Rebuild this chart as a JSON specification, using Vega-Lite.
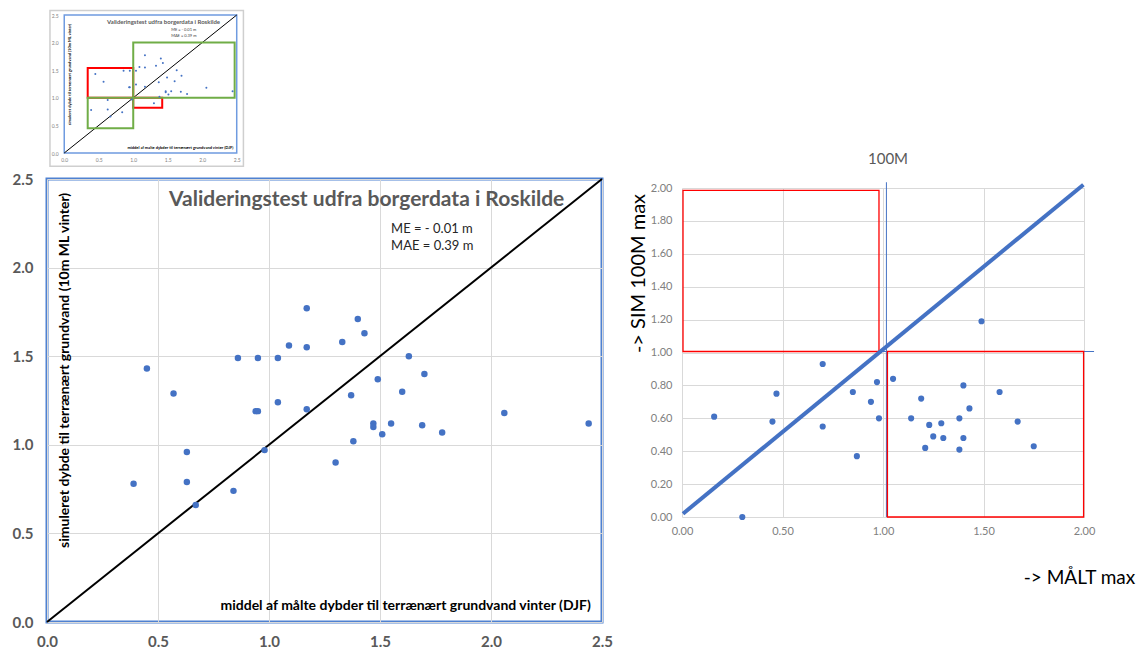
{
  "$schema": "https://vega.github.io/schema/vega-lite/v6.json",
  "background": "white",
  "padding": {"left": 10, "top": 9, "right": 0, "bottom": 0},
  "config": {"view": {"stroke": null}, "font": "Lato", "concat": {"spacing": 14}, "axis": {"labelFlush": false}},
  "datasets": {
    "obs": [
      {"x":0.39,"y":0.78},{"x":0.45,"y":1.43},{"x":0.57,"y":1.29},{"x":0.63,"y":0.96},{"x":0.63,"y":0.79},{"x":0.67,"y":0.66},{"x":0.84,"y":0.74},{"x":0.86,"y":1.49},{"x":0.94,"y":1.19},{"x":0.95,"y":1.19},{"x":0.95,"y":1.49},{"x":0.98,"y":0.97},{"x":1.04,"y":1.49},{"x":1.04,"y":1.24},{"x":1.09,"y":1.56},{"x":1.17,"y":1.77},{"x":1.17,"y":1.55},{"x":1.17,"y":1.20},{"x":1.30,"y":0.90},{"x":1.33,"y":1.58},{"x":1.37,"y":1.28},{"x":1.38,"y":1.02},{"x":1.40,"y":1.71},{"x":1.43,"y":1.63},{"x":1.47,"y":1.12},{"x":1.47,"y":1.10},{"x":1.49,"y":1.37},{"x":1.51,"y":1.06},{"x":1.55,"y":1.12},{"x":1.60,"y":1.30},{"x":1.63,"y":1.50},{"x":1.69,"y":1.11},{"x":1.70,"y":1.40},{"x":1.78,"y":1.07},{"x":2.06,"y":1.18},{"x":2.44,"y":1.12}
    ],
    "right": [
      {"x":0.16,"y":0.61},{"x":0.30,"y":0.00},{"x":0.45,"y":0.58},{"x":0.47,"y":0.75},{"x":0.70,"y":0.93},{"x":0.70,"y":0.55},{"x":0.85,"y":0.76},{"x":0.87,"y":0.37},{"x":0.94,"y":0.70},{"x":0.97,"y":0.82},{"x":0.98,"y":0.60},{"x":1.05,"y":0.84},{"x":1.14,"y":0.60},{"x":1.19,"y":0.72},{"x":1.21,"y":0.42},{"x":1.23,"y":0.56},{"x":1.25,"y":0.49},{"x":1.29,"y":0.57},{"x":1.30,"y":0.48},{"x":1.38,"y":0.60},{"x":1.38,"y":0.41},{"x":1.40,"y":0.80},{"x":1.40,"y":0.48},{"x":1.43,"y":0.66},{"x":1.49,"y":1.19},{"x":1.58,"y":0.76},{"x":1.67,"y":0.58},{"x":1.75,"y":0.43}
    ],
    "diag": [{"x":0,"y":0},{"x":2.5,"y":2.5}],
    "grid": [{"v":0.5},{"v":1.0},{"v":1.5},{"v":2.0}],
    "boxes": [
      {"x":0.34,"x2":1.0,"y":1.0,"y2":1.54,"c":"red"},
      {"x":1.0,"x2":1.42,"y":0.82,"y2":1.0,"c":"red"},
      {"x":1.0,"x2":2.47,"y":1.0,"y2":2.0,"c":"green"},
      {"x":0.34,"x2":1.0,"y":0.45,"y2":1.0,"c":"green"}
    ],
    "notes": [
      {"k":"title","t":"Valideringstest udfra borgerdata i Roskilde","x":1.44,"y":2.38},
      {"k":"stat","t":"ME = - 0.01 m","x":1.55,"y":2.22},
      {"k":"stat","t":"MAE = 0.39 m","x":1.55,"y":2.12},
      {"k":"ytitle","t":"simuleret dybde til terrænært grundvand (10m ML vinter)","x":0.083,"y":1.42},
      {"k":"xtitle","t":"middel af målte dybder til terrænært grundvand vinter (DJF)","x":2.45,"y":0.09}
    ]
  },
  "hconcat": [
    {
      "spacing": 3,
      "vconcat": [
        {
          "width": 198, "height": 138,
          "encoding": {
            "x": {"field": "x", "type": "quantitative", "scale": {"domain": [-0.25, 2.62], "nice": false, "zero": false},
                  "axis": {"values": [0,0.5,1,1.5,2,2.5], "format": ".1f", "labelFontSize": 5, "labelColor": "#7f7f7f", "labelPadding": 4, "ticks": false, "domain": false, "grid": false, "title": null}},
            "y": {"field": "y", "type": "quantitative", "scale": {"domain": [0, 2.5], "nice": false, "zero": false},
                  "axis": {"values": [0,0.5,1,1.5,2,2.5], "format": ".1f", "labelFontSize": 5, "labelColor": "#7f7f7f", "labelPadding": 6, "offset": -17.2, "ticks": false, "domain": false, "grid": false, "title": null}}
          },
          "layer": [
            {"data": {"values": [{"x": -0.207, "x2": 2.597, "y": -0.24, "y2": 2.58}]}, "mark": {"type": "rect", "filled": false, "color": "#cfcfcf", "strokeWidth": 1.5}, "encoding": {"x2": {"field": "x2"}, "y2": {"field": "y2"}}},
            {"data": {"name": "grid"}, "mark": {"type": "rule", "color": "#e6e6e6", "strokeWidth": 0.7}, "encoding": {"x": {"field": "v", "type": "quantitative"}, "y": {"datum": 0}, "y2": {"datum": 2.5}}},
            {"data": {"name": "grid"}, "mark": {"type": "rule", "color": "#e6e6e6", "strokeWidth": 0.7}, "encoding": {"y": {"field": "v", "type": "quantitative"}, "x": {"datum": 0}, "x2": {"datum": 2.5}}},
            {"data": {"values": [{"x": 0, "x2": 2.5, "y": 0, "y2": 2.5}]}, "mark": {"type": "rect", "filled": false, "color": "#6f9be0", "strokeWidth": 1.5}, "encoding": {"x2": {"field": "x2"}, "y2": {"field": "y2"}}},
            {"data": {"name": "diag"}, "mark": {"type": "line", "color": "#000000", "strokeWidth": 1}},
            {"data": {"name": "boxes"}, "mark": {"type": "rect", "filled": false, "strokeWidth": 2},
             "encoding": {"x2": {"field": "x2"}, "y2": {"field": "y2"}, "color": {"field": "c", "type": "nominal", "scale": {"domain": ["red", "green"], "range": ["#ff0000", "#70ad47"]}, "legend": null}}},
            {"data": {"name": "obs"}, "mark": {"type": "point", "filled": true, "opacity": 1, "size": 4, "color": "#4472C4"}},
            {"data": {"name": "notes"}, "transform": [{"filter": "datum.k == 'title'"}], "mark": {"type": "text", "fontSize": 6, "fontWeight": "bold", "color": "#595959", "align": "center", "baseline": "middle"}, "encoding": {"text": {"field": "t"}}},
            {"data": {"name": "notes"}, "transform": [{"filter": "datum.k == 'stat'"}], "mark": {"type": "text", "fontSize": 4, "color": "#404040", "align": "left", "baseline": "middle"}, "encoding": {"text": {"field": "t"}}},
            {"data": {"name": "notes"}, "transform": [{"filter": "datum.k == 'ytitle'"}], "mark": {"type": "text", "fontSize": 4, "fontWeight": "bold", "color": "#000000", "align": "center", "baseline": "middle", "angle": 270}, "encoding": {"text": {"field": "t"}}},
            {"data": {"name": "notes"}, "transform": [{"filter": "datum.k == 'xtitle'"}], "mark": {"type": "text", "fontSize": 4, "fontWeight": "bold", "color": "#000000", "align": "right", "baseline": "middle"}, "encoding": {"text": {"field": "t"}}}
          ]
        },
        {
          "width": 555, "height": 443,
          "view": {"stroke": "#4f81d1", "strokeWidth": 3},
          "encoding": {
            "x": {"field": "x", "type": "quantitative", "scale": {"domain": [0, 2.5], "nice": false, "zero": false},
                  "axis": {"values": [0,0.5,1,1.5,2,2.5], "format": ".1f", "labelFontSize": 15, "labelFontWeight": "bold", "labelColor": "#595959", "labelPadding": 12, "ticks": false, "domain": false, "grid": true, "gridColor": "#d9d9d9", "title": null}},
            "y": {"field": "y", "type": "quantitative", "scale": {"domain": [0, 2.5], "nice": false, "zero": false},
                  "axis": {"values": [0,0.5,1,1.5,2,2.5], "format": ".1f", "labelFontSize": 15, "labelFontWeight": "bold", "labelColor": "#595959", "labelPadding": 14, "ticks": false, "domain": false, "grid": true, "gridColor": "#d9d9d9", "title": null}}
          },
          "layer": [
            {"data": {"name": "diag"}, "mark": {"type": "line", "color": "#000000", "strokeWidth": 2}},
            {"data": {"name": "obs"}, "mark": {"type": "point", "filled": true, "opacity": 1, "size": 42, "color": "#4472C4"}},
            {"data": {"name": "notes"}, "transform": [{"filter": "datum.k == 'title'"}], "mark": {"type": "text", "fontSize": 21, "fontWeight": "bold", "color": "#595959", "align": "center", "baseline": "middle"}, "encoding": {"text": {"field": "t"}}},
            {"data": {"name": "notes"}, "transform": [{"filter": "datum.k == 'stat'"}], "mark": {"type": "text", "fontSize": 13, "color": "#262626", "align": "left", "baseline": "middle"}, "encoding": {"text": {"field": "t"}}},
            {"data": {"name": "notes"}, "transform": [{"filter": "datum.k == 'ytitle'"}], "mark": {"type": "text", "fontSize": 14, "fontWeight": "bold", "color": "#000000", "align": "center", "baseline": "middle", "angle": 270}, "encoding": {"text": {"field": "t"}}},
            {"data": {"name": "notes"}, "transform": [{"filter": "datum.k == 'xtitle'"}], "mark": {"type": "text", "fontSize": 14, "fontWeight": "bold", "color": "#000000", "align": "right", "baseline": "middle"}, "encoding": {"text": {"field": "t"}}}
          ]
        }
      ]
    },
    {
      "spacing": 0,
      "vconcat": [
        {"width": 402, "height": 136, "data": {"values": []}, "mark": {"type": "point"}, "encoding": {}},
        {
          "width": 402, "height": 329,
          "title": {"text": "100M", "fontSize": 15, "fontWeight": "normal", "color": "#595959", "offset": 10, "dx": 5, "font": "Lato"},
          "encoding": {
            "x": {"field": "x", "type": "quantitative", "scale": {"domain": [0, 2], "nice": false, "zero": false},
                  "axis": {"values": [0,0.5,1,1.5,2], "format": ".2f", "labelFontSize": 11, "labelColor": "#808080", "labelPadding": 8, "ticks": false, "domain": false, "grid": true, "gridColor": "#d9d9d9",
                           "title": "-> MÅLT max", "titleFontSize": 19, "titleFontWeight": "normal", "titleColor": "#000000", "titleX": 397, "titleY": 60, "titleAlign": "center", "titleBaseline": "middle"}},
            "y": {"field": "y", "type": "quantitative", "scale": {"domain": [0, 2], "nice": false, "zero": false},
                  "axis": {"values": [0,0.2,0.4,0.6,0.8,1,1.2,1.4,1.6,1.8,2], "format": ".2f", "labelFontSize": 11, "labelColor": "#808080", "labelPadding": 10, "ticks": false, "domain": false, "grid": true, "gridColor": "#d9d9d9",
                           "title": "-> SIM 100M  max", "titleFontSize": 20, "titleFontWeight": "normal", "titleColor": "#000000", "titleY": 85, "titleAlign": "center", "titlePadding": 2}}
          },
          "layer": [
            {"data": {"values": [{"x": 1.017, "y": 0, "y2": 2.035}]}, "mark": {"type": "rule", "color": "#4472C4", "strokeWidth": 1}, "encoding": {"y2": {"field": "y2"}}},
            {"data": {"values": [{"x": 1.0, "x2": 2.05, "y": 1.006}]}, "mark": {"type": "rule", "color": "#4472C4", "strokeWidth": 1}, "encoding": {"x2": {"field": "x2"}}},
            {"data": {"values": [{"x": 0.005, "x2": 0.98, "y": 1.006, "y2": 1.985}, {"x": 1.022, "x2": 1.998, "y": 0.0, "y2": 1.006}]}, "mark": {"type": "rect", "filled": false, "color": "#ff0000", "strokeWidth": 1.3}, "encoding": {"x2": {"field": "x2"}, "y2": {"field": "y2"}}},
            {"data": {"values": [{"x": 0.005, "y": 0.02}, {"x": 1.997, "y": 2.02}]}, "mark": {"type": "line", "color": "#4472C4", "strokeWidth": 4}},
            {"data": {"name": "right"}, "mark": {"type": "point", "filled": true, "opacity": 1, "size": 38, "color": "#4472C4"}}
          ]
        }
      ]
    }
  ]
}
